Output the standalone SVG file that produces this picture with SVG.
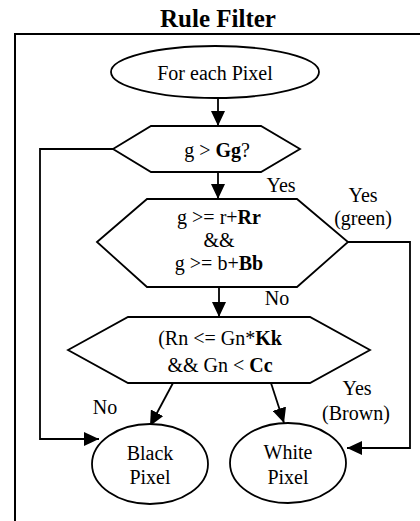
<svg xmlns="http://www.w3.org/2000/svg" width="420" height="521" viewBox="0 0 420 521">
  <style>
    .shape { fill: #ffffff; stroke: #000000; stroke-width: 1.8; }
    .edge { fill: none; stroke: #000000; stroke-width: 1.8; marker-end: url(#arrow); }
    .frame { fill: none; stroke: #000000; stroke-width: 2; }
    text { font-size: 20px; fill: #000000; text-anchor: middle; }
    .title { font-size: 25px; font-weight: bold; }
    .b { font-weight: bold; }
  </style>
  <defs>
    <marker id="arrow" markerUnits="userSpaceOnUse" markerWidth="16" markerHeight="14" refX="15" refY="7" orient="auto">
      <path d="M0,0 L15,7 L0,14 Z" fill="#000000"/>
    </marker>
  </defs>

  <g font-family="Liberation Serif, DejaVu Serif, serif">
  <text class="title" x="218" y="27">Rule Filter</text>
  <path class="frame" d="M15,521 V34 H420"/>

  <!-- connectors and their labels -->
  <g id="connectors">
    <path class="edge" d="M218,98 V126"/>
    <path class="edge" d="M218,172 V199"/>
    <path class="edge" d="M219,287 V317"/>
    <path class="edge" d="M173,383 L150,426"/>
    <path class="edge" d="M271,383 L284,423"/>
    <path class="edge" d="M113,149 H40 V439 H99"/>
    <path class="edge" d="M348,242 H410 V448 H347"/>
    <text x="281" y="192">Yes</text>
    <text x="363" y="202">Yes</text>
    <text x="363" y="225">(green)</text>
    <text x="277" y="305">No</text>
    <text x="105" y="414">No</text>
    <text x="357" y="395">Yes</text>
    <text x="356" y="420">(Brown)</text>
  </g>

  <g id="start">
    <ellipse class="shape" cx="215" cy="72" rx="104" ry="26"/>
    <text x="215" y="80">For each Pixel</text>
  </g>

  <g id="check-g">
    <polygon class="shape" points="113,149 151,126 261,126 300,149 261,172 151,172"/>
    <text x="217" y="157">g &gt; <tspan class="b">Gg</tspan>?</text>
  </g>

  <g id="check-green">
    <polygon class="shape" points="97,242 147,199 297,199 348,242 297,287 147,287"/>
    <text x="219" y="224">g &gt;= r+<tspan class="b">Rr</tspan></text>
    <text x="219" y="247">&amp;&amp;</text>
    <text x="219" y="270">g &gt;= b+<tspan class="b">Bb</tspan></text>
  </g>

  <g id="check-brown">
    <polygon class="shape" points="68,350 128,317 310,317 370,350 310,383 128,383"/>
    <text x="220" y="345">(Rn &lt;= Gn*<tspan class="b">Kk</tspan></text>
    <text x="220" y="372">&amp;&amp; Gn &lt; <tspan class="b">Cc</tspan></text>
  </g>

  <g id="black-pixel">
    <ellipse class="shape" cx="150" cy="464" rx="58" ry="40"/>
    <text x="150" y="460">Black</text>
    <text x="150" y="484">Pixel</text>
  </g>

  <g id="white-pixel">
    <ellipse class="shape" cx="288" cy="463" rx="58" ry="40"/>
    <text x="288" y="459">White</text>
    <text x="288" y="484">Pixel</text>
  </g>
  </g>
</svg>
